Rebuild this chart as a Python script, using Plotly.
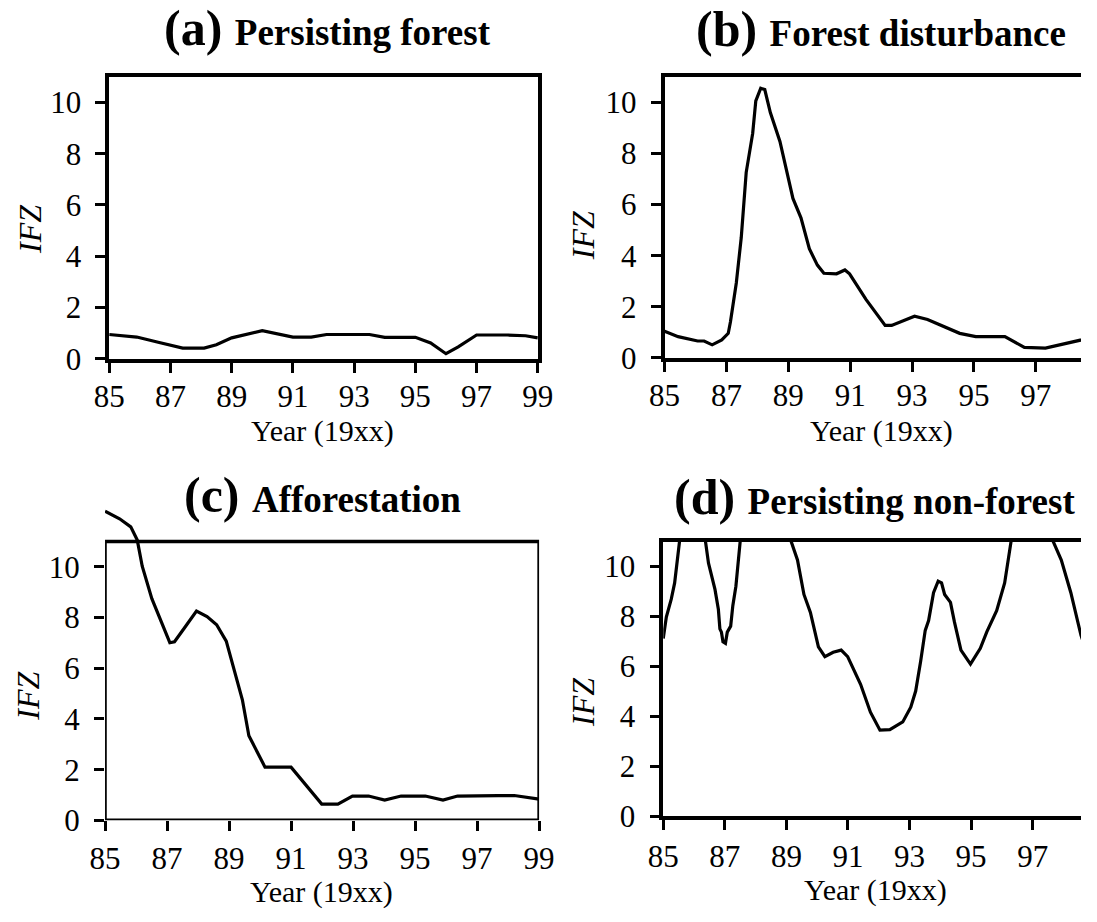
import plotly.graph_objects as go

# ---- data: IFZ time series (years 19xx) ----
years_a = [85.0, 85.9, 86.6, 87.4, 88.1, 88.5, 89.0, 90.0, 91.0, 91.6, 92.1, 93.5, 94.0,
           95.0, 95.5, 96.0, 96.4, 97.0, 98.0, 98.6, 99.0]
ifz_a = [0.95, 0.85, 0.65, 0.42, 0.42, 0.55, 0.82, 1.10, 0.85, 0.85, 0.95, 0.95, 0.84,
         0.84, 0.62, 0.20, 0.47, 0.93, 0.93, 0.90, 0.82]

years_b = [85.0, 85.44, 86.07, 86.28, 86.54, 86.85, 87.06, 87.13, 87.32, 87.48, 87.64,
           87.85, 87.95, 88.11, 88.24, 88.42, 88.73, 89.15, 89.41, 89.68, 89.94, 90.15,
           90.56, 90.83, 90.98, 91.51, 92.13, 92.34, 93.08, 93.5, 94.54, 95.06, 96.0,
           96.63, 97.31, 97.78, 98.46, 99.0]
ifz_b = [1.04, 0.83, 0.66, 0.66, 0.51, 0.70, 0.96, 1.40, 2.93, 4.71, 7.26,
         8.79, 10.06, 10.55, 10.5, 9.6, 8.47, 6.24, 5.48, 4.27, 3.63, 3.31,
         3.29, 3.44, 3.29, 2.29, 1.27, 1.27, 1.63, 1.50, 0.96, 0.83, 0.83,
         0.41, 0.38, 0.51, 0.70, 0.85]

years_c = [85.0, 85.47, 85.83, 86.04, 86.2, 86.51, 87.09, 87.24, 87.56, 87.95, 88.29,
           88.6, 88.91, 89.12, 89.43, 89.64, 90.0, 90.16, 91.0, 91.99, 92.51, 92.98,
           93.5, 94.02, 94.55, 95.33, 95.9, 96.37, 97.68, 98.2, 99.0]
ifz_c = [12.2, 11.9, 11.58, 11.06, 10.03, 8.75, 7.01, 7.05, 7.59, 8.26, 8.04,
         7.72, 7.07, 6.17, 4.76, 3.34, 2.44, 2.1, 2.1, 0.64, 0.64, 0.96,
         0.96, 0.8, 0.96, 0.96, 0.8, 0.96, 0.98, 0.98, 0.84]

years_d = [85.0, 85.1, 85.26, 85.37, 85.47, 85.53, 85.75, 86.0, 86.2,
           86.37, 86.47, 86.68, 86.79, 86.84, 86.89, 86.94, 87.02, 87.08, 87.19, 87.26, 87.36, 87.5,
           87.75, 88.2, 88.7, 89.0,
           89.15, 89.36, 89.57, 89.78, 90.04, 90.25, 90.52, 90.78, 90.99, 91.41, 91.73, 92.04,
           92.36, 92.78, 93.04, 93.2, 93.36, 93.51, 93.62, 93.78, 93.93, 94.04, 94.14, 94.33,
           94.46, 94.67, 94.98, 95.3, 95.51, 95.83, 96.09, 96.3,
           96.6, 97.0, 97.4,
           97.66, 97.93, 98.24, 98.57,
           98.8, 99.0]
ifz_d = [7.11, 7.97, 8.69, 9.34, 10.39, 11.02, 12.3, 12.8, 12.2,
         11.02, 10.13, 9.08, 8.29, 7.5, 7.37, 6.98, 6.92, 7.37, 7.61, 8.43, 9.21, 11.02,
         12.6, 13.5, 13.0, 11.9,
         11.02, 10.26, 8.88, 8.16, 6.78, 6.39, 6.56, 6.65, 6.39, 5.28, 4.16, 3.44,
         3.46, 3.77, 4.36, 5.01, 6.19, 7.44, 7.83, 8.95, 9.41, 9.34, 8.88, 8.56,
         7.77, 6.65, 6.09, 6.72, 7.38, 8.23, 9.34, 11.02,
         12.4, 13.2, 12.3,
         11.02, 10.26, 8.95, 7.24,
         6.4, 5.8]

panel_tags = ["(a)", "(b)", "(c)", "(d)"]
panel_names = ["Persisting forest", "Forest disturbance", "Afforestation", "Persisting non-forest"]
x_ticks = [85, 87, 89, 91, 93, 95, 97, 99]
y_ticks = [0, 2, 4, 6, 8, 10]
x_title = "Year (19xx)"
y_title = "IFZ"

# ---- layout helpers (pixel -> paper) ----
W, H = 1097, 922
FONT = "Liberation Serif"


def fx(p):
    return p / W


def fy(p):
    return 1 - p / H


fig = go.Figure()
series = [(years_a, ifz_a), (years_b, ifz_b), (years_c, ifz_c), (years_d, ifz_d)]
for i, (xs, ys) in enumerate(series):
    sfx = "" if i == 0 else str(i + 1)
    fig.add_trace(go.Scatter(x=xs, y=ys, mode="lines", xaxis="x" + sfx, yaxis="y" + sfx,
                             line=dict(color="black", width=3.2), showlegend=False,
                             hoverinfo="skip"))


def xax(domain, rng, anchor, line, mirror, standoff):
    return dict(domain=domain, range=rng, anchor=anchor, tickvals=x_ticks,
                ticks="outside", ticklen=10, tickwidth=2.5, tickcolor="black",
                showgrid=False, zeroline=False, showline=line, mirror=mirror,
                linecolor="black", linewidth=3.5, ticklabelstandoff=standoff,
                tickfont=dict(family=FONT, size=31, color="black"))


def yax(domain, rng, anchor, line, mirror):
    return dict(domain=domain, range=rng, anchor=anchor, tickvals=y_ticks,
                ticks="outside", ticklen=10, tickwidth=2.5, tickcolor="black",
                showgrid=False, zeroline=False, showline=line, mirror=mirror,
                linecolor="black", linewidth=3.5, ticklabelstandoff=8,
                tickfont=dict(family=FONT, size=31, color="black"))


fig.update_layout(
    width=W, height=H, margin=dict(l=0, r=0, t=0, b=0),
    paper_bgcolor="white", plot_bgcolor="white",
    xaxis=xax([fx(96), fx(537.5)], [85, 99], "y", True, True, -3),
    yaxis=yax([fy(366), fy(78.3)], [0, 11], "x", True, True),
    xaxis2=xax([fx(668), 1.0], [85, 98.46], "y2", True, True, -3),
    yaxis2=yax([fy(365), fy(78.3)], [0, 11], "x2", True, False),
    xaxis3=xax([fx(91.7), fx(538.8)], [85, 99], "y3", False, False, 0),
    yaxis3=yax([fy(836.7), fy(516.2)], [0, 12.4], "x3", False, False),
    xaxis4=xax([fx(666.7), 1.0], [85, 98.57], "y4", True, True, 0),
    yaxis4=yax([fy(832.3), fy(552.3)], [0, 11], "x4", True, False),
)

# frame of panel (c) stops at IFZ = 11 so the curve can run above it
fig.add_shape(type="rect", xref="x3", yref="y3", x0=85, x1=99, y0=0, y1=11,
              line=dict(color="black", width=3.5), layer="above")

annotations = []
title_pos = [(321, 59.0), (891, 60.0), (316, 535.6), (884, 537.3)]
xtitle_pos = [(316, 459), (891, 459), (315, 929), (885, 927)]
ytitle_pos = [(15, 234), (584, 240), (13, 710), (584, 716)]
for i in range(4):
    tx, ty = title_pos[i]
    annotations.append(dict(
        x=fx(tx), y=fy(ty), xref="paper", yref="paper", xanchor="center", yanchor="bottom",
        showarrow=False,
        text="<b>%s </b><b><span style='font-size:37px'>%s</span></b>" % (panel_tags[i], panel_names[i]),
        font=dict(family=FONT, size=50, color="black")))
    ax_, ay_ = xtitle_pos[i]
    annotations.append(dict(
        x=fx(ax_), y=fy(ay_), xref="paper", yref="paper", xanchor="center", yanchor="bottom",
        showarrow=False, text=x_title, font=dict(family=FONT, size=30, color="black")))
    yx, yy = ytitle_pos[i]
    annotations.append(dict(
        x=fx(yx), y=fy(yy), xref="paper", yref="paper", xanchor="center", yanchor="middle",
        showarrow=False, text="<i>%s</i>" % y_title, textangle=-90,
        font=dict(family=FONT, size=32, color="black")))
fig.update_layout(annotations=annotations)

fig.write_html("out.html")
